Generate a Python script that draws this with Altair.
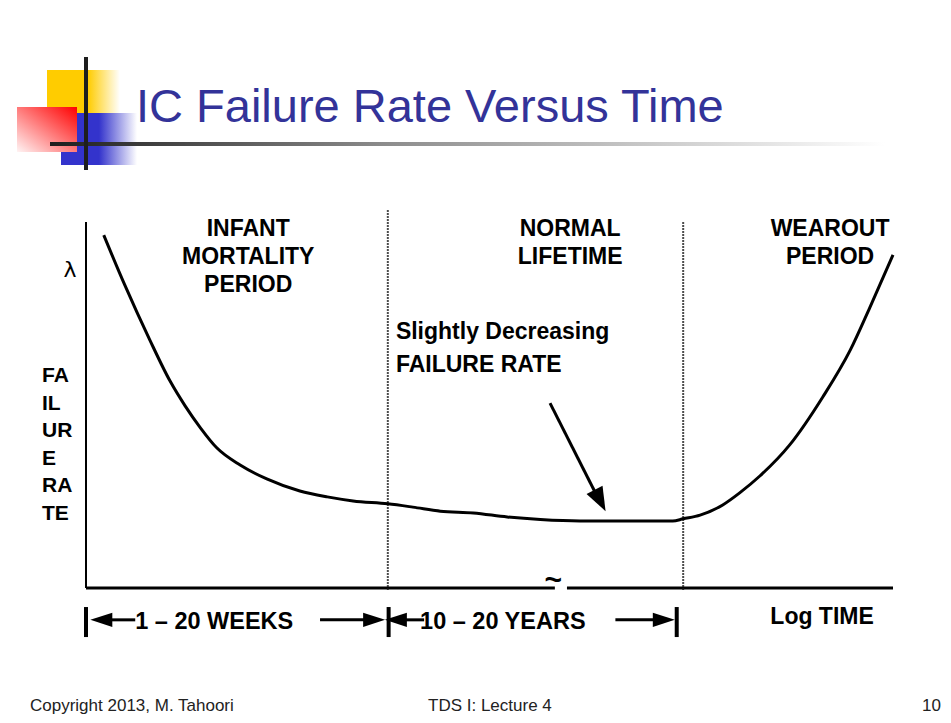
import altair as alt
import pandas as pd

# ---------------- data (arbitrary units: log time 0-100, failure rate 0-100) -------------
time_pts = [2.2, 4.8, 7.9, 10.4, 12.3, 14.2, 16.2, 19.1, 22.4, 26.5, 29.9, 33.1, 37.4,
            40.5, 43.9, 48.0, 52.2, 56.3, 61.2, 66.8, 72.7, 74.0, 76.1, 78.9, 81.0,
            83.5, 87.2, 91.3, 94.7, 97.1, 100.0]
rate_pts = [96.4, 82.8, 67.8, 56.6, 49.7, 43.7, 38.3, 33.6, 29.8, 26.5, 24.9, 23.8, 23.0,
            22.1, 21.0, 20.5, 19.4, 18.7, 18.3, 18.3, 18.3, 18.9, 19.9, 22.7, 26.0,
            30.6, 39.1, 52.2, 65.0, 76.5, 91.0]

period_bounds = [37.4, 74.0]          # log-time boundaries between the three periods
period_labels = [["INFANT", "MORTALITY", "PERIOD"], ["NORMAL", "LIFETIME"], ["WEAROUT", "PERIOD"]]
note_lines = ["Slightly Decreasing", "FAILURE RATE"]
ylabel_lines = ["FA", "IL", "UR", "E", "RA", "TE"]
range_labels = ["1 \u2013 20 WEEKS", "10 \u2013 20 YEARS"]
xlabel = "Log TIME"
title_text = "IC Failure Rate Versus Time"
footer_texts = ["Copyright 2013, M. Tahoori", "TDS I: Lecture 4", "10"]

# ---------------- scales ----------------
XS = alt.Scale(domain=[0, 100], nice=False, zero=False)
YS = alt.Scale(domain=[0, 100], nice=False, zero=False)
W, H = 807, 366
OX, OY = 86, 222   # reference pixel position of the plot origin (top-left)

def X(f):
    return alt.X(f, type="quantitative", scale=XS, axis=None)

def Y(f):
    return alt.Y(f, type="quantitative", scale=YS, axis=None)

def px(v):
    return alt.value(v - OX)

def py(v):
    return alt.value(v - OY)

ONE = pd.DataFrame({"d": [0]})
FONT = "Liberation Sans"

layers = []

# ---------------- slide decoration: logo ----------------
def grad(stops, x1=0, y1=0, x2=1, y2=0):
    return alt.LinearGradient(gradient="linear",
                              stops=[alt.GradientStop(color=c, offset=o) for o, c in stops],
                              x1=x1, y1=y1, x2=x2, y2=y2)

def rect(x1, x2, y1, y2, fill):
    return alt.Chart(ONE).mark_rect(fill=fill, strokeWidth=0).encode(
        x=px(x1), x2=px(x2), y=py(y1), y2=py(y2))

layers.append(rect(47, 120, 70, 115, grad([(0, "#FFCC00"), (0.56, "#FFCC00"), (1, "#FFFFFF")])))
layers.append(rect(61, 137, 113, 165, grad([(0, "#3333CC"), (0.5, "#3333CC"), (1, "#FFFFFF")])))
layers.append(rect(17, 77, 107, 152, grad([(0, "#FF0000"), (1, "#FFF4F4")], x1=1, y1=0, x2=0, y2=1)))
layers.append(rect(50, 885, 142, 146, grad([(0, "#1E1E1E"), (0.4, "#8C8C8C"), (1, "#FFFFFF")])))
layers.append(rect(84, 88, 57, 170, "#1E1E1E"))

# title
layers.append(alt.Chart(ONE).mark_text(text=title_text, font=FONT, fontSize=47, color="#333399",
                                       align="left", baseline="alphabetic").encode(
    x=px(136), y=py(122)))

# footer
for txt, xx, al in zip(footer_texts, [30, 428, 941], ["left", "left", "right"]):
    layers.append(alt.Chart(ONE).mark_text(text=txt, font=FONT, fontSize=17, color="#222222",
                                           align=al, baseline="alphabetic").encode(
        x=px(xx), y=py(711)))

# ---------------- chart axes ----------------
axes_df = pd.DataFrame({"t1": [0, 0, 59.6], "t2": [0, 58.1, 100],
                        "r1": [0, 0, 0], "r2": [100, 0, 0]})
layers.append(alt.Chart(axes_df.iloc[[0]]).mark_rule(color="black", strokeWidth=2).encode(
    x=X("t1"), x2=alt.X2("t2"), y=Y("r1"), y2=alt.Y2("r2")))
layers.append(alt.Chart(axes_df.iloc[[1, 2]]).mark_rule(color="black", strokeWidth=3).encode(
    x=X("t1"), x2=alt.X2("t2"), y=Y("r1"), y2=alt.Y2("r2")))
# axis break mark
layers.append(alt.Chart(pd.DataFrame({"t": [57.9], "r": [2.0]})).mark_text(
    text="~", font=FONT, fontWeight="bold", fontSize=30, align="center", baseline="middle").encode(
    x=X("t"), y=Y("r")))

# period boundaries (dotted)
bound_df = pd.DataFrame({"t": period_bounds, "r1": [-0.5, -0.5], "r2": [103.3, 100.0]})
layers.append(alt.Chart(bound_df).mark_rule(color="#111111", strokeWidth=2, strokeDash=[1.5, 1.5]).encode(
    x=X("t"), y=Y("r1"), y2=alt.Y2("r2")))

# ---------------- the curve ----------------
curve_df = pd.DataFrame({"t": time_pts, "r": rate_pts})
layers.append(alt.Chart(curve_df).mark_line(color="black", strokeWidth=3, interpolate="monotone").encode(
    x=X("t"), y=Y("r")))

# ---------------- text annotations ----------------
lab_rows = []
for lines, tc in zip(period_labels, [20.1, 60.0, 92.2]):
    for i, s in enumerate(lines):
        lab_rows.append({"t": tc, "r": 96.2 - 7.65 * i, "s": s})
layers.append(alt.Chart(pd.DataFrame(lab_rows)).mark_text(
    font=FONT, fontWeight="bold", fontSize=23, align="center", baseline="alphabetic", color="black").encode(
    x=X("t"), y=Y("r"), text="s:N"))

note_df = pd.DataFrame({"t": [38.4, 38.4], "r": [68.0, 59.0], "s": note_lines})
layers.append(alt.Chart(note_df).mark_text(
    font=FONT, fontWeight="bold", fontSize=23, align="left", baseline="alphabetic", color="black").encode(
    x=X("t"), y=Y("r"), text="s:N"))

# arrow pointing at the flat part
layers.append(alt.Chart(pd.DataFrame({"t1": [57.5], "r1": [50.5], "t2": [63.4], "r2": [24.8]})).mark_rule(
    color="black", strokeWidth=3).encode(x=X("t1"), x2=alt.X2("t2"), y=Y("r1"), y2=alt.Y2("r2")))
layers.append(alt.Chart(pd.DataFrame({"t": [63.7], "r": [23.9]})).mark_point(
    shape="M1,0L-1,-0.75L-1,0.75Z", filled=True, size=576, angle=62.6, color="black", opacity=1).encode(
    x=X("t"), y=Y("r")))

# lambda and vertical y label
layers.append(alt.Chart(ONE).mark_text(text="\u03bb", font="DejaVu Sans", fontSize=22,
                                       align="center", baseline="middle", color="black").encode(
    x=px(70), y=py(270)))
for i, s in enumerate(ylabel_lines):
    layers.append(alt.Chart(ONE).mark_text(text=s, font=FONT, fontWeight="bold", fontSize=21,
                                           align="left", baseline="alphabetic", color="black").encode(
        x=px(42), y=py(382 + 27.6 * i)))

# ---------------- bottom time-range markers ----------------
bars_df = pd.DataFrame({"t": [0, 37.5, 73.2], "r1": [-5.2] * 3, "r2": [-13.4] * 3})
layers.append(alt.Chart(bars_df).mark_rule(color="black", strokeWidth=4).encode(
    x=X("t"), y=Y("r1"), y2=alt.Y2("r2")))
shaft_df = pd.DataFrame({"t1": [3.0, 29.0, 39.6, 65.6], "t2": [6.1, 34.9, 41.9, 70.9], "r": [-8.7] * 4})
layers.append(alt.Chart(shaft_df).mark_rule(color="black", strokeWidth=3).encode(
    x=X("t1"), x2=alt.X2("t2"), y=Y("r")))
layers.append(alt.Chart(pd.DataFrame({"t": [1.9, 38.4], "r": [-8.7, -8.7]})).mark_point(
    shape="M-1,0L1,-0.64L1,0.64Z", filled=True, size=484, color="black", opacity=1).encode(
    x=X("t"), y=Y("r")))
layers.append(alt.Chart(pd.DataFrame({"t": [35.7, 71.6], "r": [-8.7, -8.7]})).mark_point(
    shape="M1,0L-1,-0.64L-1,0.64Z", filled=True, size=484, color="black", opacity=1).encode(
    x=X("t"), y=Y("r")))
rng_df = pd.DataFrame({"t": [6.1, 41.4], "r": [-11.2, -11.2], "s": range_labels})
layers.append(alt.Chart(rng_df).mark_text(
    font=FONT, fontWeight="bold", fontSize=23.5, align="left", baseline="alphabetic", color="black").encode(
    x=X("t"), y=Y("r"), text="s:N"))
layers.append(alt.Chart(pd.DataFrame({"t": [84.8], "r": [-9.8]})).mark_text(
    text=xlabel, font=FONT, fontWeight="bold", fontSize=23, align="left", baseline="alphabetic",
    color="black").encode(x=X("t"), y=Y("r")))

chart = alt.layer(*layers).properties(
    width=W, height=H,
    autosize=alt.AutoSizeParams(type="none"),
    padding={"left": OX - 8, "top": OY - 8, "right": 935 - (OX - 8) - W, "bottom": 707 - (OY - 8) - H},
    background="white",
).configure_view(stroke=None)

chart.save("out.html", embed_options={"renderer": "svg", "actions": False})
